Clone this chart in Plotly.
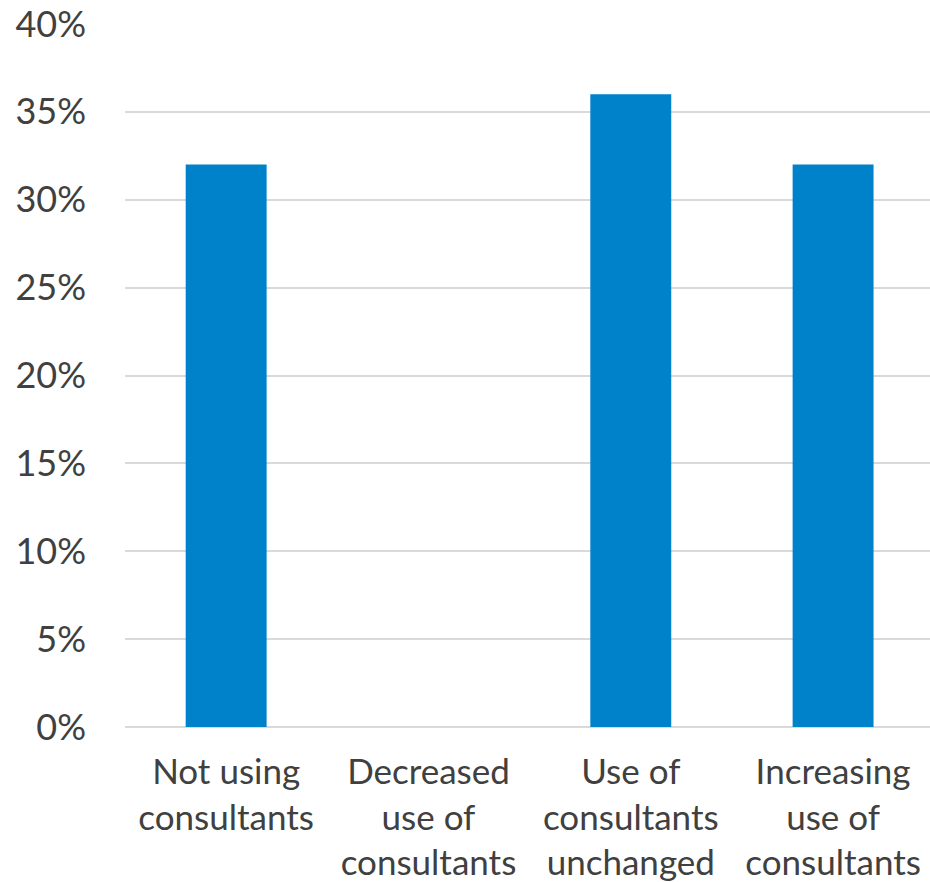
import plotly.graph_objects as go

categories = [
    "Not using<br>consultants",
    "Decreased<br>use of<br>consultants",
    "Use of<br>consultants<br>unchanged",
    "Increasing<br>use of<br>consultants",
]
shares = [0.32, 0.0, 0.36, 0.32]
y_ticks = [0, 0.05, 0.10, 0.15, 0.20, 0.25, 0.30, 0.35, 0.40]

text_color = "#404040"
grid_color = "#D9D9D9"
font_family = "Lato, 'Open Sans', sans-serif"

fig = go.Figure(
    go.Bar(
        x=categories,
        y=shares,
        marker=dict(color="#0082CA", line=dict(width=0)),
    )
)

fig.update_layout(
    width=930,
    height=882,
    margin=dict(l=125, r=0, t=24, b=155),
    paper_bgcolor="white",
    plot_bgcolor="white",
    bargap=0.6,
    showlegend=False,
    font=dict(family=font_family, color=text_color, size=32),
)

# the category band runs slightly past the right edge of the page
fig.update_xaxes(
    range=[-0.5, 3.479],
    showgrid=False,
    showline=False,
    ticks="",
    tickfont=dict(size=35, color=text_color),
    ticklabelstandoff=21,
    automargin=False,
)

fig.update_yaxes(
    range=[0, 0.40],
    tickvals=y_ticks,
    tickformat=".0%",
    showgrid=True,
    gridcolor=grid_color,
    gridwidth=1.5,
    zeroline=True,
    zerolinecolor=grid_color,
    zerolinewidth=1.5,
    showline=False,
    ticks="",
    tickfont=dict(size=36, color=text_color),
    ticklabelstandoff=38,
    automargin=False,
)

fig.write_html("out.html")
